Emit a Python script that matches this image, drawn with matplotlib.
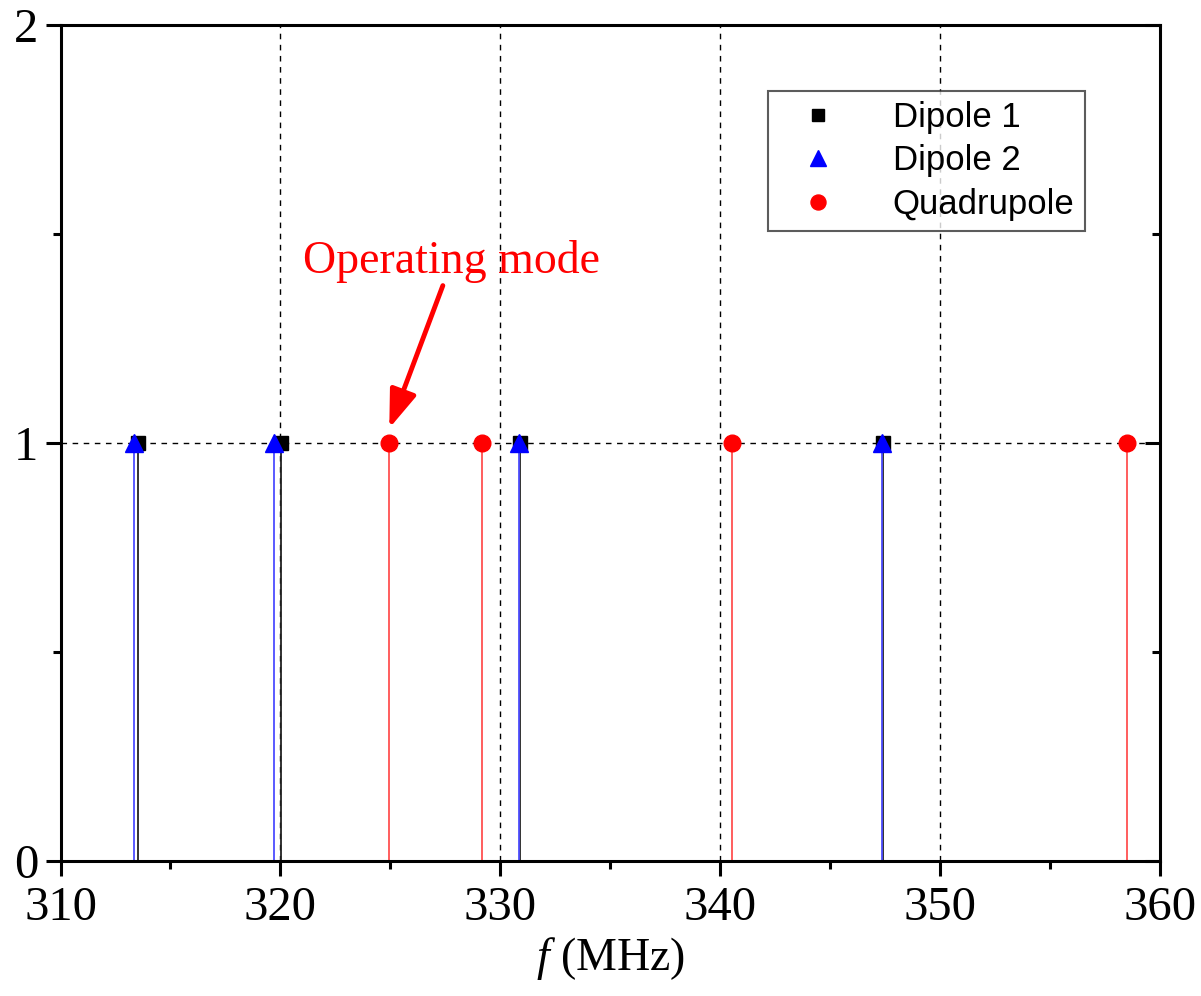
import matplotlib.pyplot as plt
from matplotlib.ticker import MultipleLocator

# mode frequencies (MHz), all normalised to amplitude 1
dipole1 = [313.53, 320.01, 330.88, 347.42]
dipole2 = [313.36, 319.73, 330.84, 347.35]
quadrupole = [324.95, 329.15, 340.55, 358.51]

operating = 324.95

plt.rcParams['font.family'] = ['Liberation Serif', 'DejaVu Serif']
plt.rcParams['mathtext.fontset'] = 'custom'
plt.rcParams['mathtext.it'] = 'Liberation Serif:italic'
plt.rcParams['mathtext.rm'] = 'Liberation Serif'

fig = plt.figure(figsize=(12.01, 9.96), dpi=100)
ax = fig.add_axes([0.0504, 0.1358, 0.9155, 0.8391])

# grid at major ticks
for gx in [320, 330, 340, 350]:
    ax.axvline(gx, color='black', lw=1.0, ls=(0, (4, 4)), zorder=1)
ax.axhline(1, color='black', lw=1.0, ls=(0, (4, 4)), zorder=1)

# stems
ax.vlines(dipole1, 0, [1] * len(dipole1), color='#222222', lw=1.3, zorder=2)
ax.vlines(dipole2, 0, [1] * len(dipole2), color='#4d4dff', lw=1.3, zorder=2)
ax.vlines(quadrupole, 0, [1] * len(quadrupole), color='#ff5050', lw=1.3, zorder=2)

# markers
ax.plot(dipole1, [1] * len(dipole1), ls='none', marker='s', ms=10, color='black',
        label='Dipole 1', zorder=3)
ax.plot(dipole2, [1] * len(dipole2), ls='none', marker='^', ms=13, color='#0000ff',
        label='Dipole 2', zorder=4)
ax.plot(quadrupole, [1] * len(quadrupole), ls='none', marker='o', ms=12, color='#ff0000',
        label='Quadrupole', zorder=4)

ax.set_xlim(310, 360)
ax.set_ylim(0, 2)
ax.xaxis.set_major_locator(MultipleLocator(10))
ax.xaxis.set_minor_locator(MultipleLocator(5))
ax.yaxis.set_major_locator(MultipleLocator(1))
ax.yaxis.set_minor_locator(MultipleLocator(0.5))

ax.tick_params(axis='both', which='major', direction='out', length=11, width=2.2,
               labelsize=35, pad=7)
ax.tick_params(axis='both', which='minor', direction='out', length=6, width=2.2)
ax.tick_params(axis='y', which='both', right=True)
ax.tick_params(axis='y', which='major', pad=5)

for sp in ax.spines.values():
    sp.set_linewidth(2.2)

# right-side ticks point inward
for t in ax.yaxis.get_major_ticks() + ax.yaxis.get_minor_ticks():
    t.tick2line.set_marker(0)

ax.set_xlabel('$f$ (MHz)', fontsize=33, labelpad=4)

ax.annotate('Operating mode', xy=(operating, 1.035), xytext=(327.8, 1.383),
            color='#ff0000', fontsize=33, ha='center', va='bottom',
            arrowprops=dict(arrowstyle='-|>,head_length=0.7,head_width=0.25',
                            color='#ff0000', lw=3.5, shrinkA=0, shrinkB=0))

leg = ax.legend(loc='upper right', bbox_to_anchor=(0.9315, 0.9215),
                prop={'family': 'Liberation Sans', 'size': 25},
                frameon=True, fancybox=False, edgecolor='#333333',
                handletextpad=1.0, borderpad=0.3, labelspacing=0.3,
                handlelength=2.3, markerscale=0.9, borderaxespad=0)
leg.get_frame().set_linewidth(1.5)

fig.savefig('out.png', dpi=100)
